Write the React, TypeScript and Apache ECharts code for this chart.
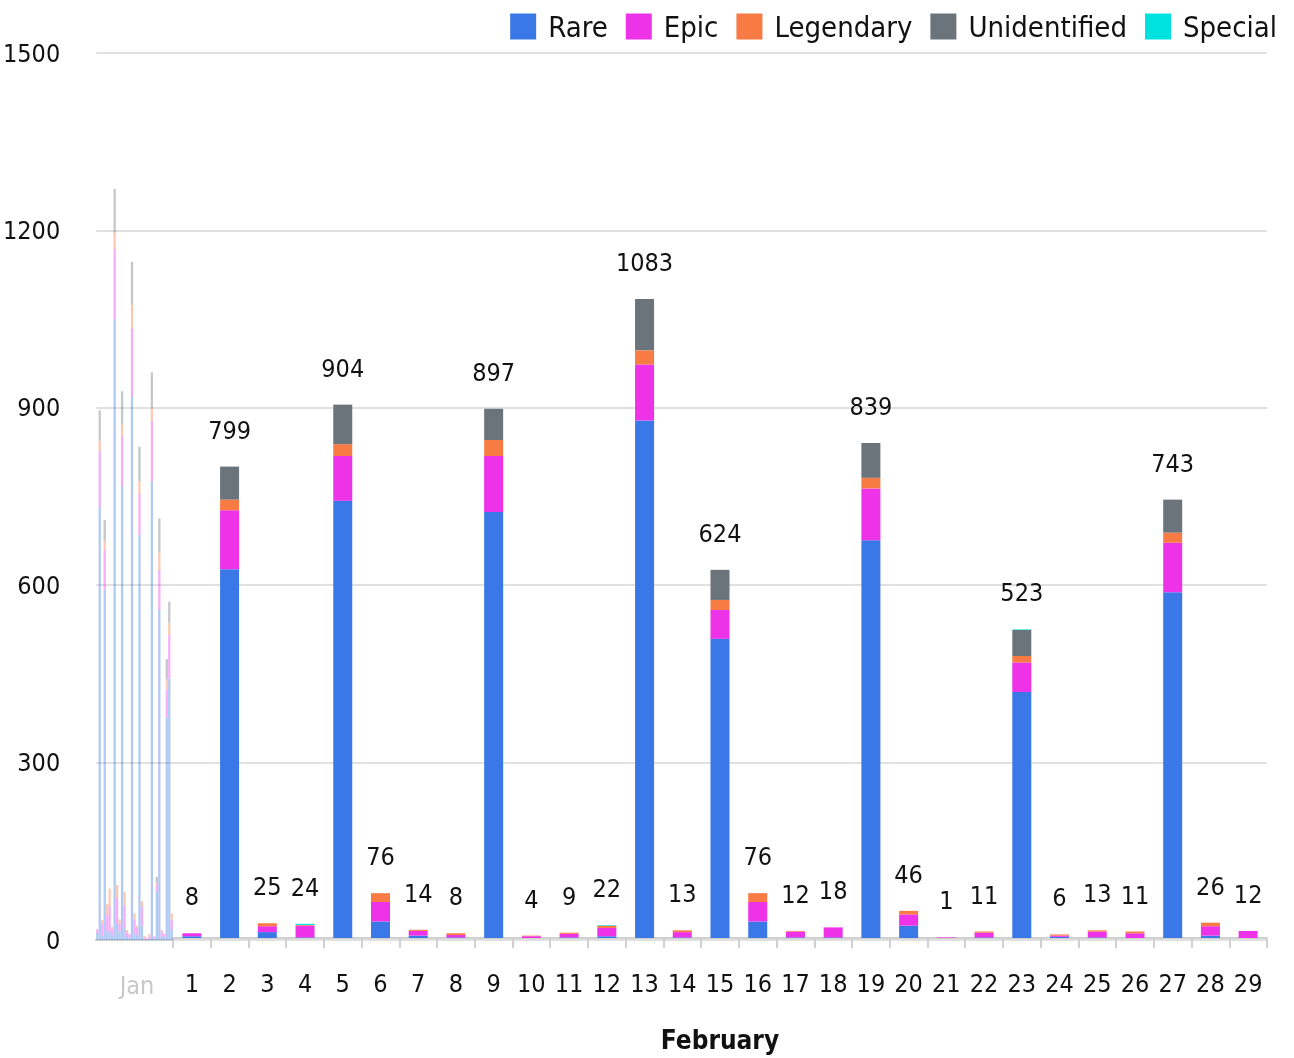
import React, { useEffect, useRef } from "react";
import * as echarts from "echarts";

const FONT = "'Liberation Sans Narrow', 'DejaVu Sans Condensed', sans-serif";

const seriesNames = ["Rare", "Epic", "Legendary", "Unidentified", "Special"];
const seriesColors = ["#3b78e7", "#ee32e8", "#f77b42", "#6c747b", "#00e2e0"];

const janDays = ["1","2","3","4","5","6","7","8","9","10","11","12","13","14","15","16","17","18","19","20","21","22","23","24","25","26","27","28","29","30","31"];
const febDays = ["1","2","3","4","5","6","7","8","9","10","11","12","13","14","15","16","17","18","19","20","21","22","23","24","25","26","27","28","29"];

const janRare = [12,731,6,592,15,14,8,1050,27,14,768,20,5,4,919,11,8,685,24,2,0,2,776,2,82,558,6,5,376,442,18];
const janEpic = [6,96,22,68,27,43,10,119,44,14,84,38,8,6,115,24,12,69,32,3,2,4,101,4,11,68,8,4,47,74,16];
const janLegendary = [0,17,6,15,19,30,4,27,22,7,19,23,4,0,40,10,4,22,10,2,2,4,23,0,4,29,3,2,18,21,11];
const janUnidentified = [0,52,0,35,0,0,0,74,0,0,57,0,0,0,73,0,0,58,0,0,0,0,60,0,10,58,0,0,34,35,0];
const janSpecial = [0,0,0,0,0,0,0,0,0,0,0,0,0,0,0,0,0,0,0,0,0,0,0,0,0,0,0,0,0,0,0];

const febRare = [3,625,10,1,741,28,4,1,722,0,1,3,877,1,507,28,1,1,674,21,0,1,417,2,1,0,586,4,0];
const febEpic = [5,100,10,20,76,33,8,4,95,3,6,14,95,9,49,33,10,17,88,19,1,8,50,2,10,8,84,16,12];
const febLegendary = [0,18,5,1,20,15,2,3,27,1,2,4,24,3,17,15,1,0,18,6,0,2,11,2,2,3,17,6,0];
const febUnidentified = [0,56,0,0,67,0,0,0,53,0,0,0,87,0,51,0,0,0,59,0,0,0,44,0,0,0,56,0,0];
const febSpecial = [0,0,0,2,0,0,0,0,0,0,0,1,0,0,0,0,0,0,0,0,0,0,1,0,0,0,0,0,0];

const yTicks = { min: 0, max: 1500, interval: 300 };

export default function App() {
  const ref = useRef<HTMLDivElement>(null);
  useEffect(() => {
    if (!ref.current) return;
    const chart = echarts.init(ref.current, undefined, { renderer: "svg" });
    const febData = [febRare, febEpic, febLegendary, febUnidentified, febSpecial];
    const janData = [janRare, janEpic, janLegendary, janUnidentified, janSpecial];
    const febTotals = febDays.map((_, i) => febData.reduce((s, arr) => s + arr[i], 0));

    const febSeries = seriesNames.map((name, k) => ({
      name,
      type: "bar",
      stack: "feb",
      xAxisIndex: 0,
      yAxisIndex: 0,
      barWidth: 19,
      itemStyle: { color: seriesColors[k] },
      data: febData[k],
    }));
    const janSeries = seriesNames.map((name, k) => ({
      name,
      type: "bar",
      stack: "jan",
      xAxisIndex: 1,
      yAxisIndex: 1,
      barWidth: "92%",
      itemStyle: { color: seriesColors[k], opacity: 0.4 },
      data: janData[k],
    }));
    const totalSeries = {
      name: "Total",
      type: "bar",
      xAxisIndex: 0,
      yAxisIndex: 0,
      barWidth: 19,
      barGap: "-100%",
      itemStyle: { color: "rgba(0,0,0,0)" },
      label: {
        show: true,
        position: "top",
        distance: 24,
        fontSize: 25,
        color: "#111",
        fontFamily: FONT,
      },
      data: febTotals,
      z: 1,
    };

    chart.setOption({
      animation: false,
      textStyle: { fontFamily: FONT },
      legend: {
        data: seriesNames,
        top: 7,
        right: 12,
        itemWidth: 26,
        itemHeight: 26,
        itemGap: 18,
        icon: "rect",
        textStyle: { fontSize: 29, color: "#111", fontFamily: FONT, padding: [0, 0, 0, 7] },
      },
      grid: [
        { left: 173, right: 27, top: 53, bottom: 118 },
        { left: 96, width: 77, top: 53, bottom: 118 },
        { left: 96, right: 27, top: 53, bottom: 118 },
      ],
      xAxis: [
        {
          type: "category",
          gridIndex: 0,
          data: febDays,
          axisLine: { lineStyle: { color: "#d0d0d0", width: 2 } },
          axisTick: { show: true, length: 10, lineStyle: { color: "#d0d0d0", width: 2 } },
          axisLabel: { fontSize: 25, color: "#111", margin: 33, fontFamily: FONT, interval: 0 },
          name: "February",
          nameLocation: "middle",
          nameGap: 89,
          nameTextStyle: { fontSize: 26, fontWeight: "bold", color: "#111", fontFamily: FONT },
        },
        {
          type: "category",
          gridIndex: 1,
          data: janDays,
          axisLine: { lineStyle: { color: "#d0d0d0", width: 2 } },
          axisTick: { show: false },
          axisLabel: {
            interval: 0,
            fontSize: 25,
            color: "#c8c8c8",
            margin: 33,
            fontFamily: FONT,
            formatter: (_v: string, i: number) => (i === 16 ? "Jan" : ""),
          },
        },
        { type: "value", gridIndex: 2, min: 0, max: 1, show: false },
      ],
      yAxis: [
        { type: "value", gridIndex: 0, min: yTicks.min, max: yTicks.max, interval: yTicks.interval, show: false },
        { type: "value", gridIndex: 1, min: yTicks.min, max: yTicks.max, interval: yTicks.interval, show: false },
        {
          type: "value",
          gridIndex: 2,
          min: yTicks.min,
          max: yTicks.max,
          interval: yTicks.interval,
          axisLine: { show: false },
          axisTick: { show: false },
          axisLabel: {
            fontSize: 25,
            color: "#111",
            margin: 36,
            fontFamily: FONT,
            padding: [0, 0, 7, 0],
            formatter: (v: number) => String(v),
          },
          splitLine: { lineStyle: { color: "#e0e0e0", width: 2 } },
        },
      ],
      series: [...febSeries, totalSeries, ...janSeries],
    });
    return () => chart.dispose();
  }, []);
  return (
    <div
      ref={ref}
      style={{ position: "fixed", left: 0, top: 0, width: 1294, height: 1058 }}
    />
  );
}
